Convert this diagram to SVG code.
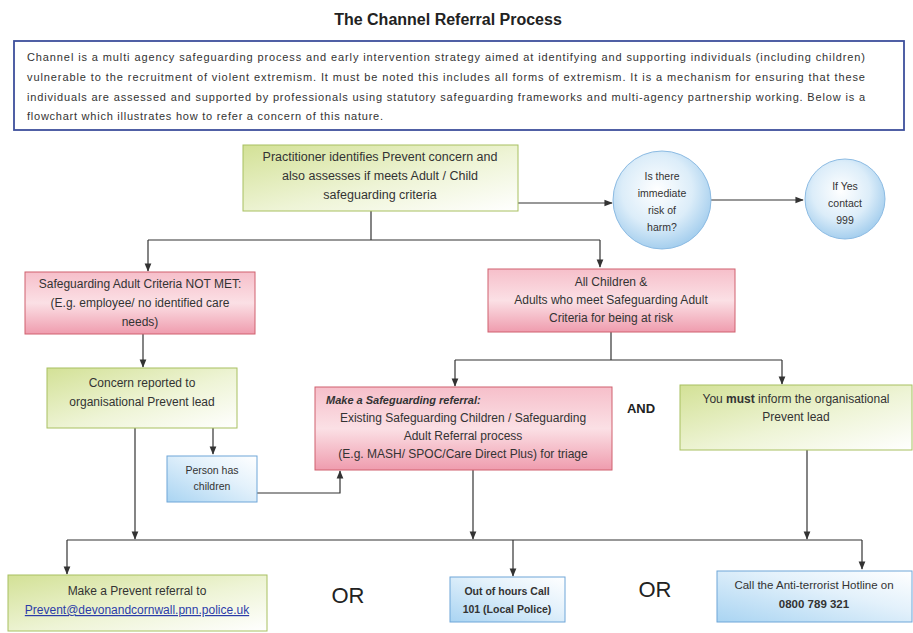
<svg xmlns="http://www.w3.org/2000/svg" width="913" height="633" viewBox="0 0 913 633">
<defs>
<linearGradient id="gGreen" x1="0" y1="0" x2="1" y2="1">
<stop offset="0" stop-color="#d3e196"/><stop offset="0.55" stop-color="#eef4d6"/><stop offset="1" stop-color="#ffffff"/>
</linearGradient>
<linearGradient id="gPink" x1="0" y1="0" x2="0" y2="1">
<stop offset="0" stop-color="#f6bfca"/><stop offset="0.5" stop-color="#fbe0e5"/><stop offset="1" stop-color="#ef9cae"/>
</linearGradient>
<linearGradient id="gBlue" x1="0" y1="1" x2="1" y2="0">
<stop offset="0" stop-color="#a9d4f2"/><stop offset="0.6" stop-color="#e3f1fb"/><stop offset="1" stop-color="#ffffff"/>
</linearGradient>
<radialGradient id="gCircle" cx="0.45" cy="0.4" r="0.6">
<stop offset="0" stop-color="#ffffff"/><stop offset="0.6" stop-color="#dcedf9"/><stop offset="1" stop-color="#a6cfee"/>
</radialGradient>
<marker id="arr" viewBox="0 0 10 10" refX="9" refY="5" markerWidth="7" markerHeight="7" orient="auto-start-reverse">
<path d="M0,1 L10,5 L0,9 z" fill="#333"/>
</marker>
<style>
text{font-family:"Liberation Sans",Arial,sans-serif;fill:#333;}
.t{font-size:12px;text-anchor:middle;}
.intro{font-size:11px;}
.green{fill:url(#gGreen);stroke:#a8c060;stroke-width:1;}
.pink{fill:url(#gPink);stroke:#d0606e;stroke-width:1;}
.blue{fill:url(#gBlue);stroke:#6fa6d8;stroke-width:1;}
.circ{fill:url(#gCircle);stroke:#8cbbe3;stroke-width:1;}
.con{fill:none;stroke:#333;stroke-width:1.2;}
.big{font-size:22px;text-anchor:middle;fill:#222;}
.sm{font-size:10.5px;text-anchor:middle;}
</style>
</defs>
<rect width="913" height="633" fill="#fff"/>
<text x="448" y="25" style="font-size:16px;font-weight:bold;text-anchor:middle;fill:#222">The Channel Referral Process</text>

<g id="intro">
<rect x="14" y="41" width="890" height="89" fill="#fff" stroke="#3d4f9c" stroke-width="1.8"/>
<text class="intro" x="27" y="61" textLength="838" lengthAdjust="spacing">Channel is a multi agency safeguarding process and early intervention strategy aimed at identifying and supporting individuals (including children)</text>
<text class="intro" x="27" y="81" textLength="838" lengthAdjust="spacing">vulnerable to the recruitment of violent extremism.  It must be noted this includes all forms of extremism.  It is a mechanism for ensuring that these</text>
<text class="intro" x="27" y="101" textLength="838" lengthAdjust="spacing">individuals are assessed and supported by professionals using statutory safeguarding frameworks and multi-agency partnership working. Below is a</text>
<text class="intro" x="27" y="120" textLength="356" lengthAdjust="spacing">flowchart which illustrates how to refer a concern of this nature.</text>
</g>

<g id="connectors">
<path class="con" d="M518,203 H612" marker-end="url(#arr)"/>
<path class="con" d="M711,200 H803" marker-end="url(#arr)"/>
<path class="con" d="M371,211 V240"/>
<path class="con" d="M148,240 H600"/>
<path class="con" d="M148,240 V271" marker-end="url(#arr)"/>
<path class="con" d="M600,240 V267" marker-end="url(#arr)"/>
<path class="con" d="M143,334 V367" marker-end="url(#arr)"/>
<path class="con" d="M611,332 V360"/>
<path class="con" d="M455,360 H782"/>
<path class="con" d="M455,360 V386" marker-end="url(#arr)"/>
<path class="con" d="M782,360 V384" marker-end="url(#arr)"/>
<path class="con" d="M213,428 V454" marker-end="url(#arr)"/>
<path class="con" d="M257,493 H340 V471" marker-end="url(#arr)"/>
<path class="con" d="M135,428 V539" marker-end="url(#arr)"/>
<path class="con" d="M473,470 V539" marker-end="url(#arr)"/>
<path class="con" d="M807,450 V539" marker-end="url(#arr)"/>
<path class="con" d="M67,540 H862"/>
<path class="con" d="M67,540 V574" marker-end="url(#arr)"/>
<path class="con" d="M513,540 V576" marker-end="url(#arr)"/>
<path class="con" d="M862,540 V569" marker-end="url(#arr)"/>
</g>

<g id="practitioner">
<rect class="green" x="243" y="145" width="275" height="66"/>
<text class="t" x="380" y="161" style="font-size:12.5px">Practitioner identifies Prevent concern and</text>
<text class="t" x="380" y="180" style="font-size:12.5px">also assesses if meets Adult / Child</text>
<text class="t" x="380" y="199" style="font-size:12.5px">safeguarding criteria</text>
</g>

<g id="risk">
<circle class="circ" cx="662" cy="200" r="49"/>
<text class="sm" x="662" y="180">Is there</text>
<text class="sm" x="662" y="197">immediate</text>
<text class="sm" x="662" y="214">risk of</text>
<text class="sm" x="662" y="231">harm?</text>
</g>

<g id="yes999">
<circle class="circ" cx="845" cy="199" r="40"/>
<text class="sm" x="845" y="190">If Yes</text>
<text class="sm" x="845" y="207">contact</text>
<text class="sm" x="845" y="224">999</text>
</g>

<g id="notmet">
<rect class="pink" x="25" y="272" width="230" height="62"/>
<text class="t" x="140" y="288">Safeguarding Adult Criteria NOT MET:</text>
<text class="t" x="140" y="307">(E.g. employee/ no identified care</text>
<text class="t" x="140" y="326">needs)</text>
</g>

<g id="allchildren">
<rect class="pink" x="488" y="269" width="247" height="63"/>
<text class="t" x="611" y="286">All Children &amp;</text>
<text class="t" x="611" y="304">Adults who meet Safeguarding Adult</text>
<text class="t" x="611" y="322">Criteria for being at risk</text>
</g>

<g id="concern">
<rect class="green" x="47" y="368" width="190" height="60"/>
<text class="t" x="142" y="387">Concern reported to</text>
<text class="t" x="142" y="406">organisational Prevent lead</text>
</g>

<g id="safeguardingreferral">
<rect class="pink" x="315" y="387" width="297" height="83"/>
<text x="326" y="404" style="font-size:11px;font-weight:bold;font-style:italic">Make a Safeguarding referral:</text>
<text class="t" x="463" y="422">Existing Safeguarding Children / Safeguarding</text>
<text class="t" x="463" y="440">Adult Referral process</text>
<text class="t" x="463" y="458">(E.g. MASH/ SPOC/Care Direct Plus) for triage</text>
</g>

<text x="641" y="413" style="font-size:13px;font-weight:bold;text-anchor:middle;fill:#222">AND</text>

<g id="mustinform">
<rect class="green" x="680" y="385" width="232" height="65"/>
<text class="t" x="796" y="403">You <tspan font-weight="bold">must</tspan> inform the organisational</text>
<text class="t" x="796" y="421">Prevent lead</text>
</g>

<g id="personchildren">
<rect class="blue" x="167" y="456" width="90" height="46"/>
<text class="t" x="212" y="474" style="font-size:10.5px">Person has</text>
<text class="t" x="212" y="490" style="font-size:10.5px">children</text>
</g>

<g id="preventreferral">
<rect class="green" x="8" y="575" width="259" height="56"/>
<text class="t" x="137" y="595">Make a Prevent referral to</text>
<text class="t" x="137" y="614" style="fill:#2b3ca8;text-decoration:underline">Prevent@devonandcornwall.pnn.police.uk</text>
</g>

<text class="big" x="348" y="603">OR</text>

<g id="outofhours">
<rect class="blue" x="450" y="577" width="115" height="45"/>
<text class="t" x="507" y="595" style="font-weight:bold;font-size:10.5px">Out of hours Call</text>
<text class="t" x="507" y="613" style="font-weight:bold;font-size:10.5px">101 (Local Police)</text>
</g>

<text class="big" x="655" y="597">OR</text>

<g id="antiterrorist">
<rect class="blue" x="717" y="571" width="195" height="51"/>
<text class="t" x="814" y="589" style="font-size:11.5px">Call the Anti-terrorist Hotline on</text>
<text class="t" x="814" y="608" style="font-weight:bold;font-size:11.5px">0800 789 321</text>
</g>
</svg>
